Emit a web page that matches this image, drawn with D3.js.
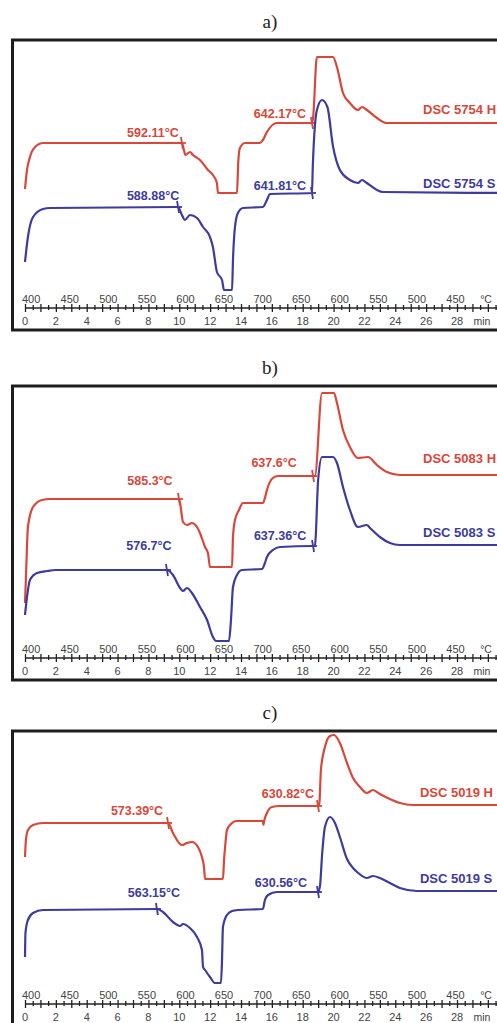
<!DOCTYPE html>
<html><head><meta charset="utf-8">
<script src="https://cdn.jsdelivr.net/npm/d3@7/dist/d3.min.js"></script>
<style>html,body{margin:0;padding:0;background:#fff;overflow:hidden}</style>
</head><body><div id="chart"></div>
<script>
// ---------- DATA ----------
const panelTitles = ["a)", "b)", "c)"];
const seriesNames = [["DSC 5754 H", "DSC 5754 S"], ["DSC 5083 H", "DSC 5083 S"], ["DSC 5019 H", "DSC 5019 S"]];
const minuteTicks = [0, 2, 4, 6, 8, 10, 12, 14, 16, 18, 20, 22, 24, 26, 28];
const tempTicks = ["400", "450", "500", "550", "600", "650", "700", "650", "600", "550", "500", "450"];
const tempUnit = "°C", timeUnit = "min";
const tempTickStart = 0.4;   // min at which 400 °C is reached
const tempTickStep = 2.5;    // min between 50 °C labels (20 K/min)

// heat flow (a.u.) vs time (min)
const a_H = [[0,119],[0.13,138],[0.32,151],[0.65,161],[1.17,165],[10.05,165],[10.17,165],[10.3,158],[10.4,153],[10.69,156],[10.89,153],[11.34,148],[11.86,138],[12.18,133],[12.44,125],[12.51,115],[13.74,115],[13.82,145],[13.93,160],[14.26,165],[15.23,165],[15.42,168],[15.68,176],[16.33,185],[18.6,185],[18.67,190],[18.92,251],[19.96,251],[20.22,241],[20.61,215],[21.06,205],[21.58,198],[21.84,201],[22.16,198],[22.81,190],[23.46,185],[31,185]];
const a_S = [[0,46],[0.19,71],[0.52,91],[1.17,99],[1.62,100],[9.85,101],[9.92,101],[10.17,93],[10.37,88],[10.69,93],[11.15,90],[11.54,81],[11.99,71],[12.18,61],[12.44,36],[12.77,28],[12.9,18],[13.42,18],[13.48,48],[13.61,81],[13.8,95],[14.13,100],[15.42,101],[15.68,108],[15.88,114],[18.6,115],[18.65,140],[18.92,198],[19.25,208],[19.6,201],[19.96,162],[20.41,138],[21.06,128],[21.58,125],[21.84,128],[22.16,125],[22.81,118],[23.2,116],[31,115]];
const b_H = [[0,55],[0.06,80],[0.19,131],[0.52,151],[1.1,158],[1.62,159],[9.98,159],[10.05,155],[10.24,136],[10.5,133],[10.82,135],[11.15,131],[11.34,125],[11.67,111],[11.86,105],[11.99,91],[13.42,91],[13.48,121],[13.61,138],[13.87,148],[14.13,155],[15.42,155],[15.55,160],[15.68,168],[16.07,180],[16.4,182],[18.67,182],[18.79,182],[19.25,265],[20.03,265],[20.22,255],[20.61,228],[21.06,211],[21.58,200],[22.23,201],[22.81,193],[23.46,186],[24.3,183],[31,183]];
const b_S = [[0,43],[0.13,61],[0.32,78],[0.78,85],[1.43,87],[2,88],[9.2,88],[9.59,83],[10.05,70],[10.24,67],[10.5,70],[10.82,65],[11.34,51],[11.8,38],[12.18,21],[12.38,17],[13.22,17],[13.35,38],[13.48,71],[13.74,83],[14.06,88],[15.36,89],[15.55,95],[15.68,101],[16.07,108],[16.53,111],[18.67,112],[18.79,112],[19.0,178],[19.25,201],[19.96,201],[20.22,195],[20.61,171],[21.06,148],[21.58,131],[22.16,133],[22.36,130],[23.0,121],[23.65,115],[24.3,113],[31,113]];
const c_H = [[0,149],[0.06,166],[0.19,176],[0.52,181],[1.17,183],[9.27,183],[9.59,173],[10.17,161],[10.5,163],[10.82,164],[11.21,159],[11.47,149],[11.6,139],[11.67,127],[12.83,127],[12.9,146],[12.97,159],[13.09,176],[13.42,183],[13.7,185],[15.42,185],[15.45,181],[15.5,185],[15.68,193],[16.0,199],[16.53,200],[18.99,200],[19.08,203],[19.18,236],[19.44,259],[19.77,270],[20.03,271],[20.41,263],[20.87,243],[21.26,228],[21.71,219],[22.16,213],[22.55,216],[23.0,212],[23.65,207],[24.3,203],[25.15,201],[31,201]];
const c_S = [[0,49],[0.03,73],[0.19,86],[0.52,93],[1.17,96],[8.55,97],[8.94,94],[9.59,84],[10.05,80],[10.24,82],[10.69,78],[11.15,69],[11.47,56],[11.54,39],[11.67,36],[11.99,29],[12.31,23],[12.7,23],[12.77,46],[12.83,79],[13.09,91],[13.42,95],[13.8,96],[15.42,97],[15.55,106],[15.75,111],[16.33,114],[18.99,114],[19.12,120],[19.25,150],[19.44,179],[19.77,189],[20.09,183],[20.41,169],[20.87,147],[21.26,138],[21.6,133],[22.16,128],[22.55,130],[23.0,128],[23.65,123],[24.3,118],[25.4,115],[31,115]];

// onset markers [min, heat flow] and their labels
const a_H_onsets = [[10.17,165],[18.6,185]], a_H_onsetLabels = ["592.11°C", "642.17°C"];
const a_S_onsets = [[9.92,101],[18.6,115]],  a_S_onsetLabels = ["588.88°C", "641.81°C"];
const b_H_onsets = [[9.98,159],[18.67,182]], b_H_onsetLabels = ["585.3°C", "637.6°C"];
const b_S_onsets = [[9.2,88],[18.67,112]],   b_S_onsetLabels = ["576.7°C", "637.36°C"];
const c_H_onsets = [[9.27,183],[18.99,200]], c_H_onsetLabels = ["573.39°C", "630.82°C"];
const c_S_onsets = [[8.55,97],[18.99,114]],  c_S_onsetLabels = ["563.15°C", "630.56°C"];

// ---------- LAYOUT / STYLE ----------
const W = 497, H = 1023;
const RED = "#d8473a", BLUE = "#3d3b9e";
const panelTop = [40, 386, 731];
const panelHeight = [290, 294, 295];
const baseOffset = [268, 272, 275];     // zero of heat-flow scale
const axisLineOffset = [268, 272, 273]; // time axis line
const onsetLabelOffsets = [
  [[[-29,-6],[-32,-5]], [[-25,-7],[-32,-3]]],
  [[[-29,-14],[-39,-9]], [[-18,-20],[-33,-6]]],
  [[[-31,-8],[-30,-8]], [[-3,-12],[-37,-5]]]
];
const nameOffsets = [[-9, -5], [-12, -8], [-8, -8]];
const nameTime = [25.8, 25.8, 25.6];

const panels = [
  {H: a_H, S: a_S, Ho: a_H_onsets, So: a_S_onsets, Hl: a_H_onsetLabels, Sl: a_S_onsetLabels},
  {H: b_H, S: b_S, Ho: b_H_onsets, So: b_S_onsets, Hl: b_H_onsetLabels, Sl: b_S_onsetLabels},
  {H: c_H, S: c_S, Ho: c_H_onsets, So: c_S_onsets, Hl: c_H_onsetLabels, Sl: c_S_onsetLabels}
];

const svg = d3.select("#chart").append("svg").attr("width", W).attr("height", H)
  .style("background", "#fff");

const x = d3.scaleLinear().domain([0, 28]).range([25, 457]);
const SANS = "'Liberation Sans',Arial,Helvetica,sans-serif";

panels.forEach((p, i) => {
  const g = svg.append("g").attr("transform", `translate(0,${panelTop[i]})`);
  const y = d3.scaleLinear().domain([0, 270]).range([baseOffset[i], baseOffset[i] - 270]);

  // title
  svg.append("text").attr("x", 270).attr("y", panelTop[i] - 12)
    .attr("text-anchor", "middle")
    .style("font-family", "'Liberation Serif','Times New Roman',serif")
    .style("font-size", "19px").style("fill", "#222").text(panelTitles[i]);

  // frame
  g.append("rect").attr("x", 12.5).attr("y", 0).attr("width", 520).attr("height", panelHeight[i])
    .attr("fill", "none").attr("stroke", "#1e1e1e").attr("stroke-width", 3);

  // axis
  const ax = g.append("g").attr("transform", `translate(0,${axisLineOffset[i]})`);
  const axis = d3.axisBottom(x).tickValues(d3.range(0, 31.01, 0.5)).tickSize(7).tickFormat("");
  ax.call(axis);
  ax.select(".domain").remove();
  ax.selectAll(".tick line").attr("y1", d => Number.isInteger(d) ? -4 : -3)
    .attr("y2", d => Number.isInteger(d) ? 4 : 2).attr("stroke", "#222").attr("stroke-width", 1.3);
  ax.append("line").attr("x1", x(0)).attr("x2", x(31)).attr("y1", 0).attr("y2", 0)
    .attr("stroke", "#222").attr("stroke-width", 1.6);
  ax.selectAll("text.min").data(minuteTicks).enter().append("text").attr("class", "min")
    .attr("x", d => x(d)).attr("y", 17).attr("text-anchor", "middle")
    .style("font-family", SANS).style("font-size", "11px")
    .style("fill", "#444").text(d => d);
  ax.append("text").attr("x", x(30) - 6).attr("y", 17)
    .style("font-family", SANS).style("font-size", "10.5px")
    .style("fill", "#444").text(timeUnit);
  ax.selectAll("text.temp").data(tempTicks).enter().append("text").attr("class", "temp")
    .attr("x", (d, k) => x(tempTickStart + tempTickStep * k)).attr("y", -5)
    .attr("text-anchor", "middle")
    .style("font-family", SANS).style("font-size", "11px")
    .style("fill", "#444").text(d => d);
  ax.append("text").attr("x", x(tempTickStart + tempTickStep * tempTicks.length) - 8).attr("y", -5)
    .style("font-family", SANS).style("font-size", "10.5px")
    .style("fill", "#444").text(tempUnit);

  const line = d3.line().x(d => x(d[0])).y(d => y(d[1])).curve(d3.curveMonotoneX);

  [["H", RED, "Ho", "Hl", 0], ["S", BLUE, "So", "Sl", 1]].forEach(([key, col, ok, lk, si]) => {
    const data = p[key];
    g.append("path").datum(data).attr("d", line).attr("fill", "none")
      .attr("stroke", col).attr("stroke-width", 2.2).attr("stroke-linejoin", "round");
    // onset markers
    p[ok].forEach((m, k) => {
      g.append("line").attr("x1", x(m[0]) - 1).attr("x2", x(m[0]) + 1)
        .attr("y1", y(m[1]) - 6).attr("y2", y(m[1]) + 6)
        .attr("stroke", col).attr("stroke-width", 1.8);
      g.append("line").attr("x1", x(m[0])).attr("x2", x(m[0]) + 4)
        .attr("y1", y(m[1])).attr("y2", y(m[1]))
        .attr("stroke", col).attr("stroke-width", 1.8);
      const off = onsetLabelOffsets[i][si][k];
      g.append("text").attr("x", x(m[0]) + off[0]).attr("y", y(m[1]) + off[1])
        .attr("text-anchor", "middle")
        .style("font-family", SANS).style("font-weight", "bold")
        .style("font-size", "12.5px").style("fill", col).text(p[lk][k]);
    });
    // series name
    const last = data[data.length - 1];
    g.append("text").attr("x", x(nameTime[i])).attr("y", y(last[1]) + nameOffsets[i][si])
      .style("font-family", SANS).style("font-weight", "bold")
      .style("font-size", "13px").style("fill", col).text(seriesNames[i][si]);
  });
});
</script></body></html>
